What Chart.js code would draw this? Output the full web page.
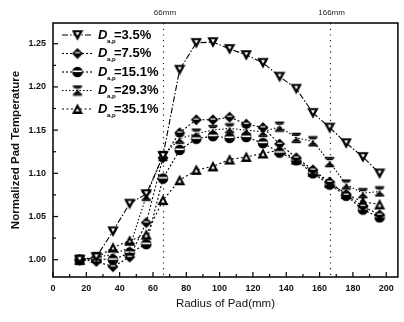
<!DOCTYPE html>
<html><head><meta charset="utf-8">
<script src="https://cdn.jsdelivr.net/npm/chart.js@4/dist/chart.umd.min.js"></script>
<style>html,body{margin:0;padding:0;background:#fff;}#wrap{width:404px;height:322px;}</style>
</head><body><div id="wrap"><canvas id="c" width="404" height="322"></canvas></div>
<script>
const radius = [16,26,36,46,56,66,76,86,96,106,116,126,136,146,156,166,176,186,196];
const seriesNames = ['=3.5%','=7.5%','=15.1%','=29.3%','=35.1%'];
const seriesSubs = ['a,p','a,p','a,p','a,p','a,p'];
const d3_5  = [1.000,1.003,1.033,1.065,1.076,1.120,1.220,1.251,1.252,1.244,1.237,1.228,1.212,1.198,1.170,1.153,1.135,1.119,1.100];
const d7_5  = [1.000,0.998,0.992,1.003,1.043,1.118,1.147,1.162,1.162,1.165,1.157,1.153,1.134,1.118,1.104,1.090,1.075,1.062,1.052];
const d15_1 = [1.000,1.001,1.000,1.008,1.018,1.094,1.127,1.140,1.143,1.141,1.142,1.135,1.124,1.115,1.100,1.087,1.074,1.058,1.049];
const d29_3 = [1.000,1.003,1.006,1.014,1.074,1.120,1.140,1.146,1.150,1.152,1.150,1.148,1.154,1.141,1.137,1.113,1.087,1.077,1.079];
const d35_1 = [1.000,1.002,1.014,1.022,1.029,1.069,1.092,1.104,1.108,1.116,1.119,1.123,1.127,1.116,1.102,1.089,1.076,1.067,1.064];
const xTicks = [0,20,40,60,80,100,120,140,160,180,200];
const yTicks = [1.00,1.05,1.10,1.15,1.20,1.25];
const refLines = [66,166];
const refLabels = ['66mm','166mm'];

function mk(draw){const c=document.createElement('canvas');c.width=12;c.height=12;const g=c.getContext('2d');g.fillStyle='#000';draw(g);return c;}
function poly(g,pts,col){g.fillStyle=col;g.beginPath();g.moveTo(pts[0][0],pts[0][1]);for(let i=1;i<pts.length;i++)g.lineTo(pts[i][0],pts[i][1]);g.closePath();g.fill();}
const mDown = mk(g=>{poly(g,[[0.3,1.2],[11.7,1.2],[6,11.8]],'#000');poly(g,[[4,3.2],[8,3.2],[6,6.8]],'#fff');});
const mDiam = mk(g=>{poly(g,[[6,0.5],[11.5,6],[6,11.5],[0.5,6]],'#000');g.fillStyle='#fff';g.fillRect(3.5,4.6,5,1.2);});
const mCirc = mk(g=>{g.beginPath();g.arc(6,6,5.3,0,Math.PI*2);g.fill();g.fillStyle='#fff';g.fillRect(1.5,4.5,9,1.6);});
const mHour = mk(g=>{g.fillRect(1.5,0.8,9,2);poly(g,[[2,3],[10,3],[6,6.3]],'#000');poly(g,[[6,5.7],[10,9],[2,9]],'#000');g.fillRect(1.5,9.2,9,2);g.fillStyle='#fff';g.fillRect(3,4,6,0.9);});
const mUp   = mk(g=>{poly(g,[[6,0.5],[11.5,11],[0.5,11]],'#000');poly(g,[[6,5],[7.8,8.5],[4.2,8.5]],'#fff');});
const markers = [mDown,mDiam,mCirc,mHour,mUp];
const dashes = [[6,2,1.5,2],[2,2],[2,2],[1.5,2],[2,2.5]];
const allData = [d3_5,d7_5,d15_1,d29_3,d35_1];

const datasets = allData.map((d,i)=>({
  label: 'D'+seriesSubs[i]+seriesNames[i],
  data: radius.map((r,j)=>({x:r,y:d[j]})),
  borderColor:'#000', borderWidth:1.1, borderDash:dashes[i],
  pointStyle: markers[i], pointRadius:5, pointHoverRadius:5,
  backgroundColor:'#000', tension:0, fill:false
}));

const deco = {
  id:'deco',
  beforeDatasetsDraw(chart){
    const {ctx, chartArea:a, scales:{x,y}} = chart;
    ctx.save();
    ctx.strokeStyle='#222'; ctx.lineWidth=1.2; ctx.setLineDash([1.2,4.5]);
    refLines.forEach(v=>{const px=Math.round(x.getPixelForValue(v))+0.5;ctx.beginPath();ctx.moveTo(px,a.top);ctx.lineTo(px,a.bottom);ctx.stroke();});
    ctx.setLineDash([]);
    ctx.fillStyle='#222'; ctx.font='8px "Liberation Sans", Arial, sans-serif'; ctx.textAlign='center'; ctx.textBaseline='middle';
    refLines.forEach((v,i)=>{ctx.fillText(refLabels[i], x.getPixelForValue(v)+2, 13);});
    ctx.restore();
  },
  afterDatasetsDraw(chart){
    const {ctx, chartArea:a, scales:{x,y}} = chart;
    ctx.save();
    ctx.strokeStyle='#000'; ctx.lineWidth=1.5;
    ctx.strokeRect(a.left, a.top, a.right-a.left, a.bottom-a.top);
    ctx.lineWidth=1.2;
    for(let v=0; v<=x.max; v+=10){const px=x.getPixelForValue(v);const L=(v%20===0)?5:3;ctx.beginPath();ctx.moveTo(px,a.bottom);ctx.lineTo(px,a.bottom-L);ctx.stroke();}
    for(let k=0;k<12;k++){const v=0.975+k*0.025; if(v<y.min||v>y.max) continue; const py=y.getPixelForValue(v);const L=(k%2===1)?5:3;ctx.beginPath();ctx.moveTo(a.left,py);ctx.lineTo(a.left+L,py);ctx.stroke();}
    // legend
    const x0=a.left+9, rowH=18.5, y0=a.top+12;
    datasets.forEach((ds,i)=>{
      const cy=y0+i*rowH;
      ctx.strokeStyle='#000'; ctx.lineWidth=1.1; ctx.setLineDash(dashes[i]);
      ctx.beginPath(); ctx.moveTo(x0,cy); ctx.lineTo(x0+31,cy); ctx.stroke(); ctx.setLineDash([]);
      ctx.drawImage(markers[i], x0+15.5-6, cy-6);
      ctx.fillStyle='#000'; ctx.textBaseline='middle'; ctx.textAlign='left';
      ctx.font='italic bold 13px "Liberation Sans", Arial, sans-serif';
      ctx.fillText('D', x0+36, cy);
      ctx.font='bold 6px "Liberation Sans", Arial, sans-serif';
      ctx.fillText(seriesSubs[i], x0+45, cy+6);
      ctx.font='bold 13px "Liberation Sans", Arial, sans-serif';
      ctx.fillText(seriesNames[i], x0+52, cy);
    });
    ctx.restore();
  }
};

new Chart(document.getElementById('c'), {
  type:'line',
  data:{datasets},
  options:{
    responsive:false, devicePixelRatio:1, animation:false,
    layout:{padding:{left:0,top:23,right:4,bottom:0}},
    plugins:{legend:{display:false}, tooltip:{enabled:false}},
    scales:{
      x:{type:'linear', min:0, max:207,
        afterBuildTicks:s=>{s.ticks=xTicks.map(v=>({value:v}));},
        afterFit:s=>{s.height=45;},
        grid:{display:false, drawTicks:false}, border:{display:false},
        ticks:{padding:6, color:'#111', font:{family:'"Liberation Sans", Arial, sans-serif', size:9, weight:'bold'}, maxRotation:0},
        title:{display:true, text:'Radius of Pad(mm)', color:'#111', padding:{top:0,bottom:11}, font:{family:'"Liberation Sans", Arial, sans-serif', size:11.5}}
      },
      y:{type:'linear', min:0.98, max:1.274,
        afterBuildTicks:s=>{s.ticks=yTicks.map(v=>({value:v}));},
        afterFit:s=>{s.width=53;},
        grid:{display:false, drawTicks:false}, border:{display:false},
        ticks:{padding:7, color:'#111', callback:v=>v.toFixed(2), font:{family:'"Liberation Sans", Arial, sans-serif', size:9, weight:'bold'}},
        title:{display:true, text:'Normalized Pad Temperature', color:'#111', padding:{top:9,bottom:0}, font:{family:'"Liberation Sans", Arial, sans-serif', size:11.5, weight:'bold'}}
      }
    }
  },
  plugins:[deco]
});
</script></body></html>
